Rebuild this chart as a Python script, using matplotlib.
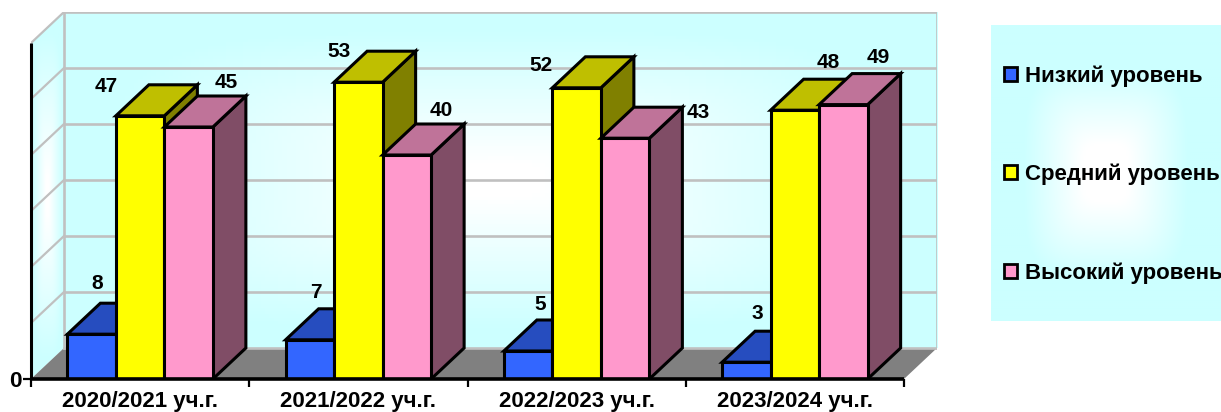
import numpy as np
import matplotlib
matplotlib.use("Agg")
import matplotlib.pyplot as plt
from matplotlib.patches import Polygon, Patch

plt.rcParams['font.family'] = ['Liberation Sans', 'DejaVu Sans']
plt.rcParams['font.weight'] = 'bold'

years = ['2020/2021 уч.г.', '2021/2022 уч.г.', '2022/2023 уч.г.', '2023/2024 уч.г.']
series_names = ['Низкий уровень', 'Средний уровень', 'Высокий уровень']
low = [8, 7, 5, 3]
mid = [47, 53, 52, 48]
high = [45, 40, 43, 49]

front_colors = ['#3366FF', '#FFFF00', '#FF99CC']
top_colors = ['#264DBF', '#BFBF00', '#BF7399']
side_colors = ['#1A3380', '#808000', '#804D66']

# label offsets from the middle of the bar's top front edge, in pixels
low_shift = [(6, 51), (6, 47), (12, 47), (11, 49)]
mid_shift = [(-34, 29), (-19, 31), (-36, 22), (33, 48)]
high_shift = [(38, 45), (34, 45), (73, 26), (35, 47)]

W, H = 1221, 412
depth_x = 33 / 218.25
depth_y = 31 / 5.6
bar_w = 48.5 / 218.25
edge = 2.2


def glow(nx, ny, inner, outer):
    # white in the middle, fading to pale cyan towards the edges
    u, v = np.meshgrid(np.linspace(-1, 1, nx), np.linspace(-1, 1, ny))
    r = (u ** 4 + v ** 4) ** 0.25
    t = np.clip((r - inner) / (outer - inner), 0, 1)[..., None]
    return (1 - t) * np.array([1, 1, 1.]) + t * np.array([0.8, 1, 1.])


fig = plt.figure(figsize=(W / 100, H / 100), dpi=100)
ax = fig.add_axes([31 / W, 1 - 379 / H, 906 / W, 367 / H])

# back wall
ax.imshow(glow(200, 100, 0.1, 0.9), extent=(depth_x, 4 + depth_x, depth_y, 60 + depth_y),
          aspect='auto', zorder=1)
# left wall
wall = ax.imshow(glow(40, 100, 0.1, 0.9), extent=(0, depth_x, 0, 60 + depth_y),
                 aspect='auto', zorder=1)
wall_shape = Polygon([(0, 0), (depth_x, depth_y), (depth_x, 60 + depth_y), (0, 60)],
                     closed=True, transform=ax.transData, fill=False, lw=0)
ax.add_patch(wall_shape)
wall.set_clip_path(wall_shape)
ax.set_xlim(0, 4 + depth_x)
ax.set_ylim(0, 60 + depth_y)

# floor
ax.add_patch(Polygon([(0, 0), (depth_x, depth_y), (4 + depth_x, depth_y), (4, 0)],
                     closed=True, fc='#808080', ec='none', zorder=2))

# grid
for val in range(0, 70, 10):
    ax.plot([depth_x, 4 + depth_x], [val + depth_y, val + depth_y], color='#C0C0C0', lw=1.9, zorder=2)
    if val > 0:
        ax.plot([0, depth_x], [val, val + depth_y], color='#C0C0C0', lw=1.6, zorder=2)
ax.plot([depth_x, depth_x], [depth_y, 60 + depth_y], color='#C0C0C0', lw=1.9, zorder=2)
ax.plot([4 + depth_x, 4 + depth_x], [depth_y, 60 + depth_y], color='#C0C0C0', lw=1.9, zorder=2)

# bars, back to front within each group
z = 3
for i in range(len(years)):
    for j, vals in enumerate([low, mid, high]):
        x0 = i + 0.5 + (j - 1.5) * bar_w
        x1 = x0 + bar_w
        v = vals[i]
        ax.add_patch(Polygon([(x1, 0), (x1 + depth_x, depth_y), (x1 + depth_x, v + depth_y), (x1, v)],
                             closed=True, fc=side_colors[j], ec='black', lw=edge, zorder=z))
        ax.add_patch(Polygon([(x0, v), (x0 + depth_x, v + depth_y), (x1 + depth_x, v + depth_y), (x1, v)],
                             closed=True, fc=top_colors[j], ec='black', lw=edge, zorder=z))
        ax.bar(x0, v, width=bar_w, align='edge', color=front_colors[j], edgecolor='black', lw=edge, zorder=z)
        z += 1

for j, (vals, shifts) in enumerate(zip([low, mid, high], [low_shift, mid_shift, high_shift])):
    for i, v in enumerate(vals):
        ax.annotate(str(v), (i + 0.5 + (j - 1) * bar_w, v), xytext=shifts[i],
                    textcoords='offset pixels', ha='center', va='center',
                    fontsize=15, color='black', zorder=50)

# axis lines
ax.plot([0, 0], [0, 60], color='black', lw=2.2, zorder=40, solid_capstyle='butt', clip_on=False)
ax.plot([0, 4], [0, 0], color='black', lw=2.6, zorder=40, solid_capstyle='butt', clip_on=False)

for sp in ax.spines.values():
    sp.set_visible(False)
ax.patch.set_visible(False)
ax.set_xticks(range(5))
ax.set_xticklabels([])
ax.set_xticks(np.arange(len(years)) + 0.5, labels=years, minor=True)
ax.tick_params(axis='x', which='major', length=5.5, width=1.6, color='black')
ax.tick_params(axis='x', which='minor', length=0, pad=9, labelsize=16)
ax.set_yticks([0])
ax.set_yticklabels(['0'], fontsize=16.2)
ax.tick_params(axis='y', length=5.5, width=1.6, pad=1.5)

# legend box
lax = fig.add_axes([991 / W, 1 - 321 / H, 230 / W, 296 / H])
lax.imshow(glow(115, 150, 0.2, 0.72), aspect='auto')
lax.axis('off')
handles = [Patch(fc=c, ec='black', lw=2, joinstyle='round') for c in front_colors]
fig.legend(handles, series_names, loc='center left', frameon=False,
           bbox_to_anchor=(1004 / W, 1 - 174.5 / H), bbox_transform=fig.transFigure,
           fontsize=16, handlelength=0.59, handleheight=0.59, handletextpad=0.36,
           labelspacing=3.47, borderpad=0, borderaxespad=0)

fig.savefig('out.png', dpi=100)
